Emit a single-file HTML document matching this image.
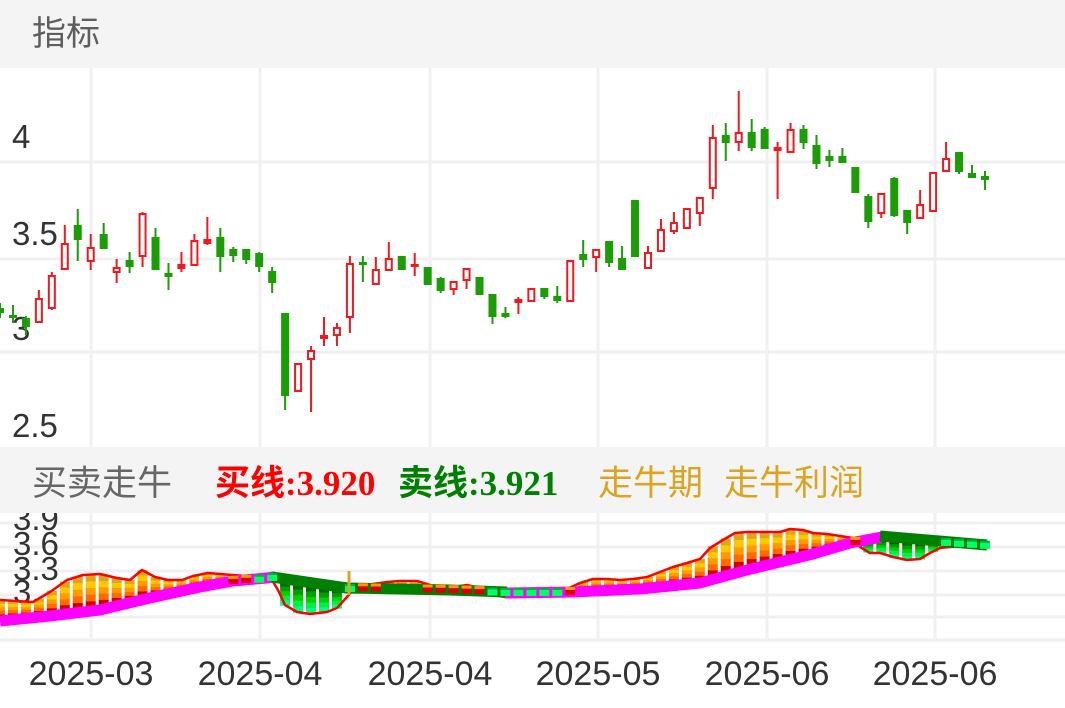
<!DOCTYPE html>
<html><head><meta charset="utf-8">
<style>
html,body{margin:0;padding:0;background:#fff;width:1065px;height:708px;overflow:hidden}
svg{display:block}
</style></head><body>
<svg id="s" width="1065" height="708" viewBox="0 0 1065 708" xmlns="http://www.w3.org/2000/svg">
<defs>
<clipPath id="cpTop"><rect x="0" y="68" width="1065" height="379"/></clipPath>
<clipPath id="cpLo"><rect x="0" y="513" width="1065" height="128"/></clipPath>
</defs>
<rect width="1065" height="708" fill="#fff"/>
<!-- header -->
<rect x="0" y="0" width="1065" height="68" fill="#f4f4f4"/>
<text x="32" y="45" font-family="Liberation Sans, Noto Sans CJK SC, sans-serif" font-size="34" fill="#5e5e5e">指标</text>

<!-- top grid -->
<g stroke="#f0f0f2" stroke-width="3">
<line x1="0" y1="162" x2="1065" y2="162"/>
<line x1="0" y1="259" x2="1065" y2="259"/>
<line x1="0" y1="352" x2="1065" y2="352"/>
<line x1="91" y1="68" x2="91" y2="447"/>
<line x1="260" y1="68" x2="260" y2="447"/>
<line x1="430" y1="68" x2="430" y2="447"/>
<line x1="598" y1="68" x2="598" y2="447"/>
<line x1="767" y1="68" x2="767" y2="447"/>
<line x1="935" y1="68" x2="935" y2="447"/>
</g>
<g font-family="Liberation Sans, sans-serif" font-size="33" fill="#333">
<text x="12" y="148">4</text>
<text x="12" y="245">3.5</text>
<text x="12" y="340">3</text>
<text x="12" y="437">2.5</text>
</g>
<g id="cd" clip-path="url(#cpTop)"></g>

<!-- lower panel grid -->
<g stroke="#f0f0f2" stroke-width="3">
<line x1="0" y1="523" x2="1065" y2="523"/>
<line x1="0" y1="547" x2="1065" y2="547"/>
<line x1="0" y1="571" x2="1065" y2="571"/>
<line x1="0" y1="595" x2="1065" y2="595"/>
<line x1="0" y1="617" x2="1065" y2="617"/>
<line x1="0" y1="640" x2="1065" y2="640"/>
<line x1="91" y1="513" x2="91" y2="640"/>
<line x1="260" y1="513" x2="260" y2="640"/>
<line x1="430" y1="513" x2="430" y2="640"/>
<line x1="598" y1="513" x2="598" y2="640"/>
<line x1="767" y1="513" x2="767" y2="640"/>
<line x1="935" y1="513" x2="935" y2="640"/>
</g>
<g font-family="Liberation Sans, sans-serif" font-size="33" fill="#333">
<text x="13" y="530">3.9</text>
<text x="13" y="555">3.6</text>
<text x="13" y="580">3.3</text>
<text x="13" y="603">3</text>
</g>
<g id="lo" clip-path="url(#cpLo)"></g>

<!-- legend band -->
<rect x="0" y="447" width="1065" height="66" fill="#f4f4f4"/>
<text x="32" y="495" font-family="Liberation Sans, Noto Sans CJK SC, sans-serif" font-size="35" fill="#666">买卖走牛</text>
<text x="215" y="495" font-family="Liberation Serif, Noto Sans CJK SC, serif" font-weight="bold" font-size="35" fill="#ff0000">买线:3.920</text>
<text x="398" y="495" font-family="Liberation Serif, Noto Sans CJK SC, serif" font-weight="bold" font-size="35" fill="#008000">卖线:3.921</text>
<text x="598" y="495" font-family="Liberation Sans, Noto Sans CJK SC, sans-serif" font-size="35" fill="#DAA520">走牛期</text>
<text x="724" y="495" font-family="Liberation Sans, Noto Sans CJK SC, sans-serif" font-size="35" fill="#DAA520">走牛利润</text>

<!-- x axis labels -->
<g font-family="Liberation Sans, sans-serif" font-size="34" fill="#333" text-anchor="middle">
<text x="91" y="685">2025-03</text>
<text x="260" y="685">2025-04</text>
<text x="430" y="685">2025-04</text>
<text x="598" y="685">2025-05</text>
<text x="767" y="685">2025-06</text>
<text x="935" y="685">2025-06</text>
</g>
</svg>
<script>
(function(){
var NS='http://www.w3.org/2000/svg';
function el(t,a,p){var e=document.createElementNS(NS,t);for(var k in a)e.setAttribute(k,a[k]);p.appendChild(e);return e;}
var cd=document.getElementById('cd'), lo=document.getElementById('lo');
var R='#f0191e',G='#1c9c07',DX=12.96;
var K=[
[0,308,313,303,318],[0,315,318,305,323],[0,318,327,316,335],[1,298,323,290,323],[1,275,309,272,310],
[1,243,270,225,270],[0,225,240,209,261],[1,247,262,234,270],[0,234,249,223,249],[1,267,273,259,283],
[0,260,267,252,273],[1,213,257,212,267],[0,237,270,228,270],[0,273,277,263,290],[1,264,269,252,272],
[1,240,266,234,266],[1,239,244,217,245],[0,237,257,228,272],[0,249,256,247,262],[0,249,260,249,264],
[0,253,267,252,272],[0,271,283,267,293],[0,313,396,313,410],[1,363,392,363,392],[1,350,360,346,412],
[1,335,339,317,346],[1,327,336,323,346],[1,263,318,256,333],[0,262,265,256,282],[1,269,285,257,285],
[1,258,271,242,271],[0,256,270,256,270],[1,264,267,253,276],[0,267,285,267,285],[0,278,291,277,293],
[1,281,290,281,295],[1,268,281,268,289],[0,277,295,277,295],[0,294,317,294,324],[0,313,317,307,318],
[1,299,303,297,314],[1,288,302,288,302],[0,288,297,288,299],[0,296,301,286,303],[1,260,302,260,302],
[0,254,260,240,267],[1,249,258,249,272],[0,241,263,241,267],[0,258,270,246,270],[0,200,257,200,257],
[1,252,269,246,269],[1,229,252,219,252],[1,222,232,212,234],[1,208,229,208,229],[1,197,214,197,226],
[1,137,189,125,199],[0,135,143,123,161],[1,132,143,91,151],[0,132,148,119,151],[0,129,149,127,149],
[1,147,151,142,199],[1,129,153,123,153],[0,129,143,125,149],[0,145,164,135,169],[0,156,161,150,167],
[0,156,163,148,163],[0,167,193,167,193],[0,196,222,194,228],[1,193,214,193,218],[0,178,216,177,217],
[0,210,223,210,234],[1,204,219,190,219],[1,172,212,172,212],[1,158,172,142,172],[0,152,172,152,174],
[0,173,178,165,178],[0,176,180,171,190]];
K.forEach(function(k,i){
  var x=DX*i,c=k[0],bt=k[1],bb=k[2],wt=Math.min(k[3],bt),wb=Math.max(k[4],bb),col=c?R:G;
  el('rect',{x:x-1,y:wt,width:2,height:Math.max(wb-wt,1),fill:col},cd);
  if(c&&bb-bt>=6){el('rect',{x:x-3,y:bt+1,width:6,height:bb-bt-2,fill:'#fff',stroke:col,'stroke-width':2},cd);}
  else el('rect',{x:x-4,y:bt,width:8,height:Math.max(bb-bt,3),fill:col},cd);
});
var B=[[0,600],[33,602],[50,592],[67,580],[83,575],[100,574],[117,578],[130,580],[142,570],[155,577],[168,580],[182,580],[193,576],[208,573],[220,574],[232,575],[247,576],[259,579],[272,580],[278,590],[285,605],[297,612],[310,614],[327,612],[337,608],[347,597],[353,590],[357,587],[373,584],[387,582],[400,581],[417,581],[430,585],[440,587],[453,587],[467,585],[480,588],[493,595],[505,597],[518,597],[532,595],[544,595],[557,594],[567,589],[580,583],[593,579],[607,579],[620,580],[633,579],[647,577],[660,572],[673,567],[687,563],[700,559],[710,548],[723,540],[735,533],[747,532],[767,532],[780,532],[790,529],[803,530],[813,533],[827,534],[840,536],[853,538],[860,547],[870,553],[880,553],[893,557],[907,560],[920,559],[930,553],[940,548],[960,546],[987,547]];
var S=[[0,621],[50,616],[100,610],[133,602],[150,598],[200,587],[233,581],[267,578],[272,577],[347,588],[400,589],[450,590],[505,592],[573,592],[640,589],[700,583],[747,570],[813,554],[850,543],[880,537],[987,545]];
function ip(P,x){if(x<=P[0][0])return P[0][1];for(var j=1;j<P.length;j++){if(x<=P[j][0]){var x0=P[j-1][0],y0=P[j-1][1],x1=P[j][0],y1=P[j][1];return y0+(y1-y0)*(x-x0)/(x1-x0);}}return P[P.length-1][1];}
var RC=['#DAA520','#FFC800','#FF9A00','#FF6A00','#D00000'];
var GC=['#006400','#00A000','#00D000','#00F040','#00FF80'];
var small=[];
for(var i=0;i<K.length;i++){
  var x=DX*i,b=ip(B,x),s=ip(S,x),d=s-b,top,bot,h,k;
  if(d>=6){top=b;bot=s-3;h=bot-top;for(k=0;k<5;k++)el('rect',{x:x-5,y:top+h*k/5,width:10,height:h/5+0.6,fill:RC[k]},lo);}
  else if(d<=-6){top=s+3;bot=b;h=bot-top;for(k=0;k<5;k++)el('rect',{x:x-5,y:top+h*k/5,width:10,height:h/5+0.6,fill:GC[k]},lo);}
  else small.push([x,s,d]);
}
function pts(P){return P.map(function(p){return p[0]+','+p[1];}).join(' ');}
el('polyline',{points:pts(B),fill:'none',stroke:'#ff0000','stroke-width':2.5,'stroke-linejoin':'round'},lo);
el('polyline',{points:'0,621 50,616 100,610 133,602 150,598 200,587 233,581 267,578 274,577',fill:'none',stroke:'#ff00ff','stroke-width':11,'stroke-linejoin':'round'},lo);
el('polyline',{points:'272,577 347,588 400,589 450,590 507,592',fill:'none',stroke:'#008000','stroke-width':11,'stroke-linejoin':'round'},lo);
el('polyline',{points:'505,593 573,592 640,589 700,583 747,570 813,554 850,543 882,537',fill:'none',stroke:'#ff00ff','stroke-width':11,'stroke-linejoin':'round'},lo);
el('polyline',{points:'880,536 987,545',fill:'none',stroke:'#008000','stroke-width':11},lo);
small.forEach(function(m){
  var x=m[0],s=m[1],d=m[2];
  if(d>0){el('rect',{x:x-5,y:s-5,width:10,height:8,fill:'#d80000'},lo);el('rect',{x:x-5,y:s-5,width:10,height:3,fill:'#ff9900'},lo);}
  else{el('rect',{x:x-5,y:s-4,width:10,height:8,fill:'#00ff66'},lo);el('rect',{x:x-5,y:s-4,width:10,height:2,fill:'#00b040'},lo);}
});
el('rect',{x:347.5,y:571,width:3,height:24,fill:'#DAA520'},lo);
})();
</script>
</body></html>
